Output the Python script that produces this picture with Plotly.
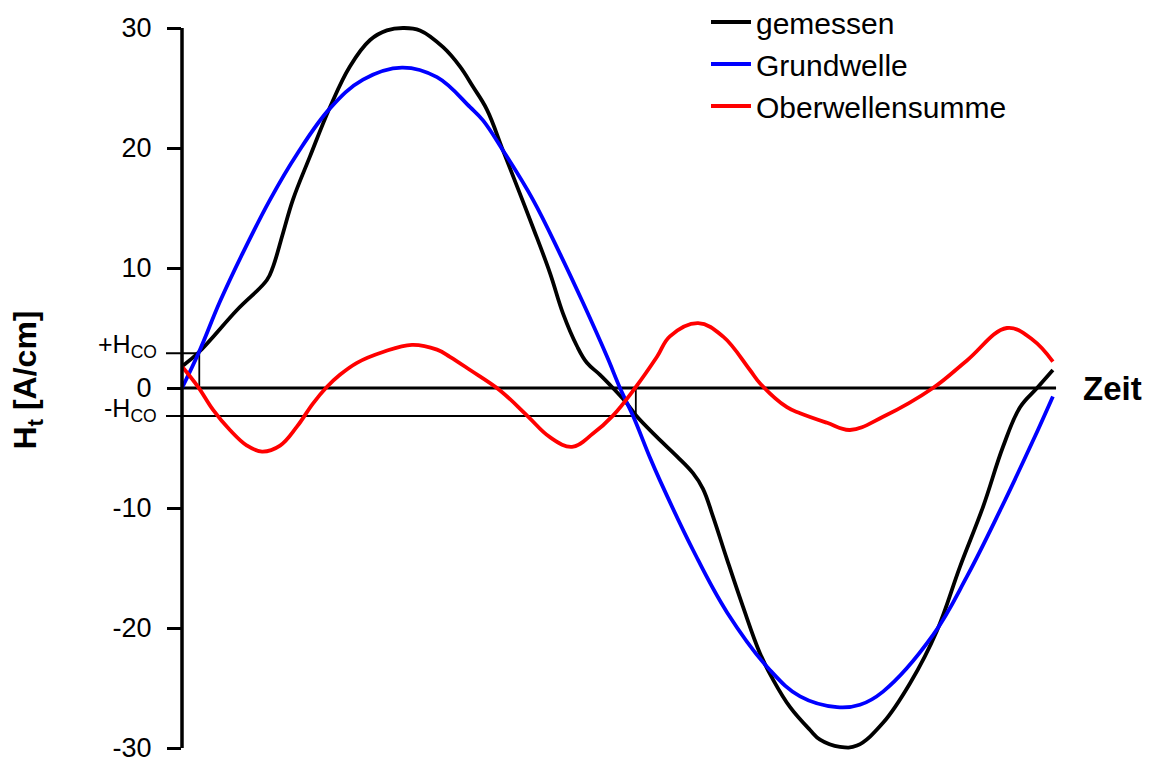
import plotly.graph_objects as go

# ---------------- data (time axis in electrical degrees) -------------
t_gemessen = [0, 7.0, 22.6, 34.9, 37.4, 41.5, 45.6, 52.6, 60.8, 69.0, 77.3, 84.2, 90.8, 97.8,
              107.3, 114.2, 119.6, 125.3, 131.9, 137.7, 144.2, 151.2, 156.6, 162.3, 166.4,
              171.8, 177.1, 182.9, 186.6, 195.2, 203.4, 210.0, 214.1, 218.2, 224.0, 230.5,
              237.5, 242.9, 249.9, 258.1, 262.2, 270.4, 277.4, 288.1, 299.2, 310.3, 319.7,
              329.2, 337.4, 344.4, 351.4, 357.9]
gemessen = [1.8, 3.0, 6.5, 9.0, 10.1, 12.9, 15.7, 19.3, 23.4, 26.8, 29.0, 29.8, 30.0, 29.8,
            28.4, 26.8, 25.1, 23.2, 19.8, 16.8, 13.4, 9.6, 6.2, 3.5, 2.1,
            1.1, 0.0, -1.3, -2.3, -4.1, -5.7, -7.1, -8.4, -10.7, -14.3, -18.2,
            -22.1, -24.3, -26.6, -28.5, -29.3, -29.9, -29.8, -27.9, -24.6, -20.2, -14.9,
            -9.9, -4.9, -1.6, 0.0, 1.5]

t_grund = [0, 7.0, 15.6, 25.1, 36.2, 47.3, 60.8, 74.4, 90.4, 104.8, 118.4, 123.7, 131.9,
           144.2, 155.3, 164.8, 174.7, 180.0, 185.3, 192.3, 196.4, 210.0, 224.0, 241.6,
           254.0, 269.2, 278.6, 288.1, 308.6, 322.6, 336.2, 349.7, 357.9]
grundwelle = [0.0, 3.0, 7.2, 11.3, 15.7, 19.5, 23.3, 25.7, 26.7, 25.9, 23.4, 22.3, 19.8,
              15.7, 11.2, 7.1, 2.6, 0.0, -2.3, -5.8, -7.7, -13.5, -18.7, -23.5,
              -25.7, -26.6, -26.4, -25.3, -20.6, -15.7, -10.2, -4.4, -0.7]

t_ober = [0, 6.6, 12.7, 19.7, 26.7, 32.9, 40.3, 47.3, 53.8, 59.6, 64.9, 71.9, 82.6, 94.5,
          104.8, 110.1, 118.4, 130.7, 141.8, 151.2, 160.3, 168.9, 177.1, 186.2, 195.2,
          200.5, 212.1, 222.3, 233.4, 237.5, 248.6, 254.0, 265.1, 274.5, 288.1, 308.6,
          322.6, 339.0, 349.7, 357.9]
oberwellensumme = [1.8, 0.1, -1.8, -3.5, -4.8, -5.3, -4.8, -3.2, -1.3, 0.1, 1.1, 2.1, 3.0, 3.6,
                   3.2, 2.6, 1.5, -0.2, -2.3, -4.1, -4.9, -3.8, -2.3, 0.0, 2.6,
                   4.3, 5.4, 4.3, 1.5, 0.4, -1.6, -2.1, -2.9, -3.5, -2.4, 0.0,
                   2.3, 5.0, 4.0, 2.2]

series_names = ["gemessen", "Grundwelle", "Oberwellensumme"]
series_colors = ["#000000", "#0000FF", "#FF0000"]

y_tickvals = [-30, -20, -10, 0, 10, 20, 30]
y_ticktext = ["-30", "-20", "-10", "0", "10", "20", "30"]

H_co_pos = 2.9       # +H_CO level
H_co_neg = -2.33     # -H_CO level
t_hco_pos = 7.1      # time where +H_CO is reached
t_hco_neg = 186.5    # time where -H_CO is reached
t_end = 359.2        # end of the time axis line

FONT = "Arial, Liberation Sans, sans-serif"

# ---------------- figure ----------------
W, H = 1154, 760
left_px, right_px = 182, 1070
px_per_deg = 876 / 360
x_max = (right_px - left_px) / px_per_deg
y_range = [-31, 30 + 28 / 12]   # 12 px per unit, +30 at 28 px from the top

fig = go.Figure()
for name, t, v, c in zip(series_names,
                         [t_gemessen, t_grund, t_ober],
                         [gemessen, grundwelle, oberwellensumme],
                         series_colors):
    fig.add_trace(go.Scatter(
        x=t, y=v, mode="lines", name=name, legendgroup=name,
        line=dict(color=c, width=3.8, shape="spline", smoothing=1.1),
        hoverinfo="skip"))


def px_to_paper_x(px):
    return (px - left_px) / (right_px - left_px)


tick_start = px_to_paper_x(166)
shapes = [
    # y axis line
    dict(type="line", xref="paper", yref="y", x0=0, x1=0, y0=-30, y1=30,
         line=dict(color="black", width=3.5), layer="above"),
    # time axis (zero line)
    dict(type="line", xref="x", yref="y", x0=0, x1=t_end, y0=0, y1=0,
         line=dict(color="black", width=3), layer="below"),
    # +H_CO marker (starts left of the axis like a tick)
    dict(type="line", xref="paper", yref="y", x0=tick_start,
         x1=px_to_paper_x(left_px + t_hco_pos * px_per_deg), y0=H_co_pos, y1=H_co_pos,
         line=dict(color="black", width=2), layer="below"),
    dict(type="line", xref="x", yref="y", x0=t_hco_pos, x1=t_hco_pos, y0=0, y1=H_co_pos,
         line=dict(color="black", width=1.8), layer="below"),
    # -H_CO marker
    dict(type="line", xref="paper", yref="y", x0=tick_start,
         x1=px_to_paper_x(left_px + t_hco_neg * px_per_deg), y0=H_co_neg, y1=H_co_neg,
         line=dict(color="black", width=2), layer="below"),
    dict(type="line", xref="x", yref="y", x0=t_hco_neg, x1=t_hco_neg, y0=H_co_neg, y1=0,
         line=dict(color="black", width=1.8), layer="below"),
]

annotations = [
    dict(text="+H<sub>CO</sub>", xref="paper", yref="y", x=px_to_paper_x(159), y=H_co_pos,
         xanchor="right", yanchor="middle", yshift=7, showarrow=False,
         font=dict(family=FONT, size=25, color="black")),
    dict(text="-H<sub>CO</sub>", xref="paper", yref="y", x=px_to_paper_x(159), y=H_co_neg,
         xanchor="right", yanchor="middle", yshift=6, showarrow=False,
         font=dict(family=FONT, size=25, color="black")),
    dict(text="<b>Zeit</b>", xref="paper", yref="y", x=px_to_paper_x(1081), y=0,
         xanchor="left", yanchor="middle", showarrow=False,
         font=dict(family=FONT, size=33, color="black")),
]

fig.update_layout(
    width=W, height=H,
    margin=dict(l=left_px, r=W - right_px, t=0, b=0, pad=0, autoexpand=False),
    plot_bgcolor="white", paper_bgcolor="white",
    font=dict(family=FONT, color="black"),
    shapes=shapes, annotations=annotations,
    showlegend=True,
    legend=dict(x=px_to_paper_x(706), y=1 + 4 / 760, xanchor="left", yanchor="top",
                bgcolor="rgba(0,0,0,0)", borderwidth=0,
                font=dict(family=FONT, size=30, color="black"),
                tracegroupgap=0, itemwidth=40),
    xaxis=dict(range=[0, x_max], visible=False, showgrid=False, zeroline=False,
               automargin=False),
    yaxis=dict(range=y_range, showgrid=False, zeroline=False, showline=False,
               automargin=False,
               tickmode="array", tickvals=y_tickvals, ticktext=y_ticktext,
               ticks="outside", ticklen=14, tickwidth=2.5, tickcolor="black",
               ticklabelstandoff=10, ticklabeloverflow="allow",
               tickfont=dict(family=FONT, size=27, color="black"),
               title=dict(text="H<sub>t</sub> [A/cm]", standoff=66,
                          font=dict(family=FONT, size=32, color="black", weight="bold"))),
)

fig.write_html("out.html")
